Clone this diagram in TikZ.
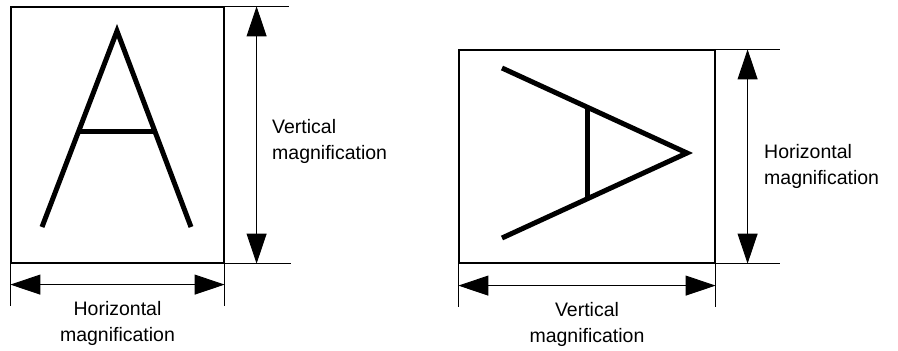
\documentclass[tikz,border=0pt]{standalone}
\usepackage{fontspec}
\setmainfont{Liberation Sans}
\usetikzlibrary{arrows.meta,positioning,calc}

\begin{document}
\begin{tikzpicture}[x=1pt,y=-1pt,
    frame/.style={rectangle,draw=black,line width=1.2pt,inner sep=0pt},
    glyph/.style={line width=5pt,line join=miter},
    extline/.style={line width=0.8pt},
    dimarrow/.style={line width=0.9pt,{Triangle[length=30pt,width=20pt]}-{Triangle[length=30pt,width=20pt]}},
    dimtext/.style={font=\fontsize{19.5}{26}\selectfont,inner sep=0pt}]

  \useasboundingbox (0,0) rectangle (898,351);

  % the two frames
  \node (upright)  [frame,minimum width=213pt,minimum height=256pt] at (117.5,135) {};
  \node (sideways) [frame,minimum width=256pt,minimum height=213pt] at (587,156.5) {};

  % the letter, upright and turned
  \draw[glyph] (42,227) -- (117,31) -- (191,227);
  \draw[glyph] (78.5,131) -- (155.5,131);
  \draw[glyph] (502,68) -- (687,153) -- (502,238);
  \draw[glyph] (587,107) -- (587,199);

  % extension lines, left frame
  \draw[extline] (upright.north east) -- ++(64,0) coordinate (ul1);
  \draw[extline] (upright.south east) -- ++(66,0) coordinate (ul2);
  \draw[extline] (upright.south west) -- ++(0,42) coordinate (ul3);
  \draw[extline] (upright.south east) -- ++(0,42) coordinate (ul4);
  \coordinate (uvtop) at ($(upright.north east)+(32,0)$);
  \coordinate (uvbot) at ($(upright.south east)+(32,0)$);
  \coordinate (uhl) at ($(upright.south west)+(0,21)$);
  \coordinate (uhr) at ($(upright.south east)+(0,21)$);
  \draw[dimarrow] (uvtop) -- (uvbot);
  \draw[dimarrow] (uhl) -- (uhr);

  % extension lines, right frame
  \draw[extline] (sideways.north east) -- ++(64,0) coordinate (sl1);
  \draw[extline] (sideways.south east) -- ++(64,0) coordinate (sl2);
  \draw[extline] (sideways.south west) -- ++(0,43) coordinate (sl3);
  \draw[extline] (sideways.south east) -- ++(0,43) coordinate (sl4);
  \coordinate (svtop) at ($(sideways.north east)+(32,0)$);
  \coordinate (svbot) at ($(sideways.south east)+(32,0)$);
  \coordinate (shl) at ($(sideways.south west)+(0,22)$);
  \coordinate (shr) at ($(sideways.south east)+(0,22)$);
  \draw[dimarrow] (svtop) -- (svbot);
  \draw[dimarrow] (shl) -- (shr);

  % labels
  \node (uvlabel) [dimtext,align=left,anchor=west]  at (272,141)   {Vertical\\magnification};
  \node (uhlabel) [dimtext,align=center]            at (117.5,323) {Horizontal\\magnification};
  \node (svlabel) [dimtext,align=left,anchor=west]  at (764,166)   {Horizontal\\magnification};
  \node (shlabel) [dimtext,align=center]            at (587,324)   {Vertical\\magnification};

\end{tikzpicture}
\end{document}
